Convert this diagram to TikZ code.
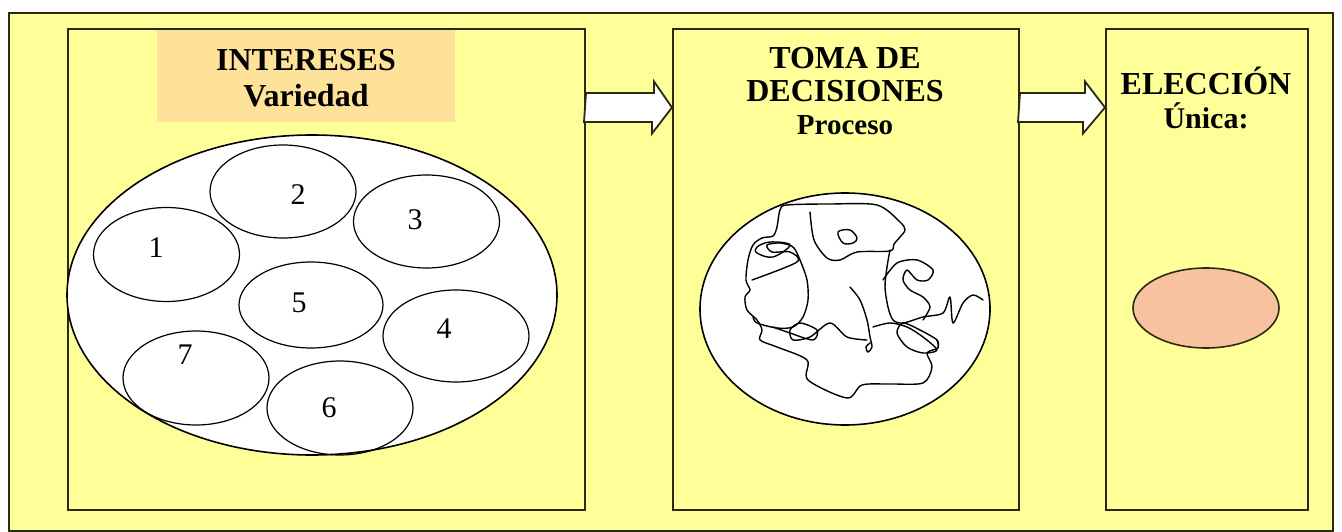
\documentclass[tikz,border=0pt]{standalone}
\usepackage{fontspec}
\setmainfont{Liberation Serif}
\usetikzlibrary{shapes.geometric,calc}
\definecolor{bgyellow}{HTML}{FFFF99}
\definecolor{hdr}{HTML}{FFE29A}
\definecolor{peach}{HTML}{F9C29E}
\definecolor{edge}{HTML}{2A2A12}
\begin{document}
\begin{tikzpicture}[x=1pt,y=-1pt,
  panel/.style={draw=edge, line width=2pt, fill=bgyellow, inner sep=0pt, anchor=north west},
  bubble/.style={ellipse, draw=black, line width=1.6pt, fill=white, inner sep=0pt},
  item/.style={ellipse, draw=black, line width=1.2pt, inner sep=0pt, minimum width=146pt, minimum height=94pt},
  num/.style={font=\fontsize{30}{30}\selectfont, inner sep=0pt},
  title/.style={align=center, inner sep=0pt, anchor=north},
  blockarrow/.style={draw=edge, line width=1.8pt, fill=white, line join=miter},
  scribble/.style={draw=black, line width=1.4pt, line join=round, line cap=round}]
\useasboundingbox (0,0) rectangle (1342,532);
\fill[white] (0,0) rectangle (1342,532);
% frame and panels
\node[panel, minimum width=1324pt, minimum height=518pt] (frame) at (8,12) {};
\node[panel, minimum width=517pt, minimum height=481pt] (box1) at (67,28) {};
\node[panel, minimum width=346pt, minimum height=481pt] (box2) at (672,28) {};
\node[panel, minimum width=202pt, minimum height=481pt] (box3) at (1105,28) {};
% header of first panel
\node[fill=hdr, inner sep=0pt, anchor=north west, minimum width=298pt, minimum height=92pt] (hdr) at (157,30) {};
\node[title, font=\fontsize{32}{36}\selectfont\bfseries] (t1) at (306,40) {\rule{0pt}{30pt}INTERESES\\Variedad};
\node[title, font=\fontsize{32}{33}\selectfont\bfseries] (t2) at (845,38) {\rule{0pt}{30pt}TOMA DE\\DECISIONES\\{\fontsize{29}{33}\selectfont Proceso}};
\node[title, font=\fontsize{32}{34}\selectfont\bfseries] (t3) at (1206,64) {\rule{0pt}{30pt}ELECCIÓN\\{\fontsize{30}{34}\selectfont Única:}};
% arrows
\path (box1.north east) ++(0,79.5) coordinate (a1s);
\path (box2.north west) ++(0,79.5) coordinate (a1e);
\path (box2.north east) ++(0,79.5) coordinate (a2s);
\path (box3.north west) ++(0,79.5) coordinate (a2e);
\draw[blockarrow] (a1s) ++(0,-14.5) -- ++(68,0) -- ++(0,-11.5) -- (a1e) -- ++(-20,26) -- ++(0,-11.5) -- ++(-68,0) -- cycle;
\draw[blockarrow] (a2s) ++(0,-14.5) -- ++(65,0) -- ++(0,-11.5) -- (a2e) -- ++(-22,26) -- ++(0,-11.5) -- ++(-65,0) -- cycle;
% left: set of interests
\node[bubble, minimum width=490pt, minimum height=320pt] (big) at (312,295) {};
\node[item] (e1) at (166.5,254.5) {};
\node[item, minimum height=93pt] (e2) at (283,191.5) {};
\node[item, minimum height=93pt] (e3) at (426.5,221.5) {};
\node[item, minimum height=92pt] (e4) at (456,336) {};
\node[item, minimum width=144pt, minimum height=86pt] (e5) at (311,305) {};
\node[item] (e6) at (340,408) {};
\node[item] (e7) at (196,378) {};
\node[num] (n1) at (156,248) {1};
\node[num] (n2) at (298,195) {2};
\node[num] (n3) at (415,220) {3};
\node[num] (n4) at (444,329) {4};
\node[num] (n5) at (299,303) {5};
\node[num] (n6) at (329,408) {6};
\node[num] (n7) at (185,355) {7};
% middle: decision process
\node[bubble, minimum width=290pt, minimum height=232pt] (proc) at (845,309) {};
\draw[scribble] plot[smooth, tension=0.5] coordinates {(810,212) (814,240) (827,258) (840,260) (857,252) (890,251) (894,244) (900,237) (905,230) (900,222) (877,205) (830,204) (787,205) (780,210) (777,227) (773,236) (762,238) (753,245) (748,260) (746,280) (750,290) (745,297) (747,310) (757,320) (762,330) (760,340) (777,347) (807,360) (808,380) (847,398) (862,385) (890,384) (923,383) (932,367) (927,353) (938,348) (937,340)};
\draw[scribble] plot[smooth, tension=0.5] coordinates {(752,280) (797,262) (790,252) (772,252) (767,245) (780,243) (793,247) (800,260) (807,280) (808,300) (803,317) (793,327) (777,328) (757,323) (753,317)};
\draw[scribble] plot[smooth, tension=0.5] coordinates {(773,327) (790,333) (813,340) (817,330) (800,323) (790,330) (793,340) (810,337) (830,323) (847,337) (867,340)};
\draw[scribble] plot[smooth, tension=0.5] coordinates {(850,287) (860,300) (867,320) (870,337) (872,347) (868,352) (866,347) (870,343)};
\draw[scribble] plot[smooth, tension=0.5] coordinates {(890,250) (887,267) (885,287) (888,307) (893,320) (903,323) (923,317) (943,313) (950,297) (953,323) (963,303) (973,295) (983,300)};
\draw[scribble] plot[smooth, tension=0.5] coordinates {(883,280) (897,263) (917,260) (933,270) (928,280) (917,280) (907,270) (903,280) (910,290) (923,297) (930,307) (923,320)};
\draw[scribble] plot[smooth, tension=0.5] coordinates {(873,327) (890,323) (907,327) (923,337) (937,350) (923,353) (907,347) (897,333) (903,323) (920,330) (937,340) (938,347)};
\draw[scribble] plot[smooth cycle, tension=0.6] coordinates {(838,232) (850,230) (857,238) (853,243) (843,243)};
\draw[scribble] plot[smooth cycle, tension=0.6] coordinates {(757,247) (770,242) (790,245) (773,257) (757,253)};
% right: single choice
\node[ellipse, draw=edge, line width=1.6pt, fill=peach, inner sep=0pt, minimum width=146pt, minimum height=80pt] (choice) at (1206,308) {};
\end{tikzpicture}
\end{document}
